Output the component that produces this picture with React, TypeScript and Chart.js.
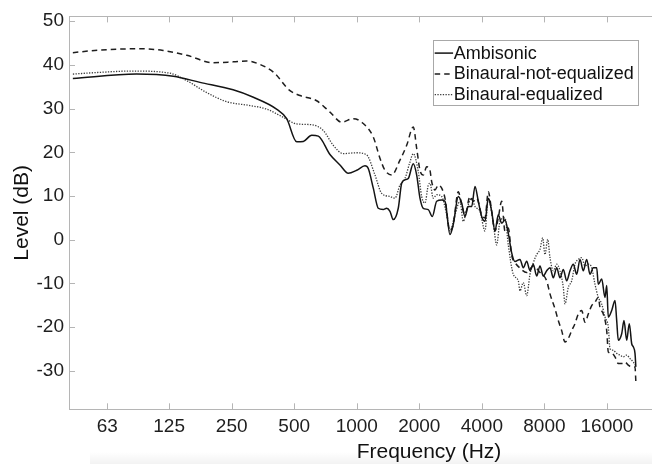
import React, { useEffect, useRef } from "react";
import { Chart, registerables } from "chart.js";

Chart.register(...registerables);

// ---------- data ----------
const SERIES_NAMES = ["Ambisonic", "Binaural-not-equalized", "Binaural-equalized"];

const X_TICKS = [63, 125, 250, 500, 1000, 2000, 4000, 8000, 16000];
const X_TICK_LABELS = ["63", "125", "250", "500", "1000", "2000", "4000", "8000", "16000"];
const Y_TICKS = [-30, -20, -10, 0, 10, 20, 30, 40, 50];

const AMB_FREQ = [43, 87, 131, 176, 254, 318, 411, 460, 514, 553, 607, 653, 743, 830, 910, 1000, 1095, 1136, 1201, 1269, 1341, 1393, 1445, 1499, 1584, 1645, 1706, 1770, 1871, 1943, 2015, 2090, 2209, 2309, 2425, 2563, 2658, 2810, 2915, 3081, 3199, 3318, 3442, 3574, 3707, 3846, 3993, 4142, 4296, 4461, 4627, 4800, 4984, 5170, 5362, 5568, 5776, 6105, 6332, 6575, 6821, 7075, 7346, 7620, 7904, 8207, 8513, 8831, 9170, 9512, 9866, 10245, 10626, 11022, 11445, 11872, 12313, 12786, 13263, 13757, 14285, 14541, 15100, 15663, 15962, 16247, 16870, 17499, 17832, 18151, 18848, 19334, 19922, 20504, 21057, 21434, 21842, 22050];
const AMB_DB = [36.9, 37.9, 37.4, 36.0, 34.3, 32.6, 29.9, 27.7, 22.4, 22.5, 23.9, 23.7, 19.5, 17.1, 15.2, 15.9, 16.9, 16.3, 11.8, 7.2, 6.9, 7.2, 6.5, 4.6, 7.2, 12.9, 13.7, 14.0, 17.4, 14.8, 9.5, 7.2, 6.9, 5.3, 8.8, 9.1, 8.8, 1.2, 3.5, 9.9, 8.4, 5.3, 7.6, 7.6, 12.2, 8.8, 5.3, 4.2, 9.5, 6.5, 2.0, 5.7, 3.8, 4.5, 1.5, -3.0, -5.0, -4.5, -6.4, -4.9, -7.1, -5.6, -8.3, -6.0, -8.3, -7.1, -6.4, -8.7, -6.4, -8.7, -6.8, -9.4, -7.1, -5.6, -7.9, -4.5, -7.1, -4.5, -7.9, -6.4, -6.4, -10.2, -9.0, -13.2, -10.5, -17.7, -16.2, -13.9, -18.5, -23.0, -21.5, -18.5, -23.0, -19.2, -23.8, -24.5, -26.0, -29.1];

const NE_FREQ = [43, 58, 90, 117, 152, 204, 254, 295, 342, 398, 477, 533, 641, 743, 846, 962, 1056, 1201, 1294, 1367, 1472, 1614, 1739, 1871, 1943, 2015, 2090, 2170, 2251, 2294, 2380, 2468, 2563, 2658, 2810, 2915, 3081, 3199, 3318, 3508, 3638, 3778, 3993, 4142, 4296, 4461, 4627, 4800, 4984, 5170, 5362, 5568, 5776, 6105, 6575, 7075, 7620, 8207, 8513, 8998, 9334, 9692, 10053, 10427, 10829, 11232, 11650, 12097, 12548, 13016, 13515, 14019, 14541, 14818, 15371, 15962, 16247, 16870, 17499, 18151, 18848, 19548, 20275, 21057, 21842, 22050];
const NE_DB = [42.8, 43.4, 43.7, 43.3, 42.2, 40.5, 40.7, 40.9, 40.1, 38.3, 34.1, 33.0, 31.8, 29.2, 26.9, 27.7, 26.9, 23.5, 18.6, 15.9, 14.8, 18.2, 21.6, 25.8, 20.9, 15.9, 14.8, 16.7, 15.9, 13.3, 11.4, 12.5, 11.8, 9.5, 2.0, 3.5, 11.0, 8.0, 5.7, 9.9, 8.8, 9.5, 5.7, 5.0, 11.0, 6.5, 2.0, 5.0, 8.8, 2.0, 2.7, -3.6, -5.2, -6.5, -7.5, -6.0, -7.5, -9.4, -12.4, -15.8, -18.5, -20.8, -23.4, -22.6, -20.8, -19.2, -17.0, -16.2, -18.9, -17.0, -15.1, -14.3, -13.2, -15.5, -17.0, -20.8, -25.7, -26.0, -26.8, -28.3, -28.3, -28.0, -28.7, -29.1, -29.1, -32.5];

const EQ_FREQ = [43, 58, 84, 126, 152, 189, 236, 306, 368, 443, 514, 607, 690, 771, 861, 1000, 1116, 1224, 1318, 1445, 1527, 1614, 1706, 1804, 1871, 1977, 2053, 2130, 2209, 2251, 2335, 2425, 2563, 2709, 2810, 2970, 3139, 3257, 3381, 3574, 3707, 3919, 4142, 4296, 4541, 4715, 4891, 5170, 5362, 5668, 5992, 6105, 6332, 6575, 6821, 7075, 7346, 7620, 7852, 8054, 8299, 8513, 8831, 9170, 9512, 9866, 10053, 10427, 10829, 11232, 11650, 12097, 12548, 13016, 13515, 14019, 14541, 15100, 15663, 16247, 16553, 17173, 17832, 18497, 19187, 19922, 20661, 21434, 21842];
const EQ_DB = [37.9, 38.3, 38.6, 38.1, 36.4, 33.7, 31.6, 30.7, 29.9, 28.0, 26.5, 26.3, 25.0, 21.6, 19.7, 19.9, 19.4, 14.8, 10.6, 9.9, 9.5, 12.5, 14.0, 17.8, 19.7, 15.6, 9.9, 8.4, 12.5, 12.9, 9.5, 10.3, 9.9, 5.7, 2.0, 5.7, 8.8, 4.2, 6.9, 9.5, 7.6, 6.5, 2.0, 9.5, 3.8, -1.2, 4.2, 5.0, -1.2, -7.9, -9.4, -11.7, -9.8, -12.8, -7.9, -5.3, -3.4, -2.2, 0.4, -3.4, 0.1, -4.1, -7.1, -5.6, -7.1, -10.9, -14.7, -10.9, -9.4, -5.6, -4.5, -4.1, -6.0, -5.6, -6.4, -10.2, -13.2, -14.7, -17.7, -20.0, -24.9, -25.3, -26.0, -26.4, -26.8, -26.4, -27.2, -28.0, -28.7];

const X_MIN = 41.2;
const X_MAX = 26370;
const Y_MIN = -38.8;
const Y_MAX = 51.1;

// ---------- styles ----------
const FONT = "'Liberation Sans', Arial, Helvetica, sans-serif";
const AXIS_COLOR = "#b5b5b5";
const TEXT_COLOR = "#1e1e1e";

const toPoints = (xs: number[], ys: number[]) => xs.map((x, i) => ({ x, y: ys[i] }));

const decorPlugin = {
  id: "decor",
  afterDatasetsDraw(chart: any) {
    const ctx = chart.ctx as CanvasRenderingContext2D;
    const a = chart.chartArea;
    const xs = chart.scales.x;
    const ys = chart.scales.y;
    ctx.save();
    // inward tick marks
    ctx.strokeStyle = AXIS_COLOR;
    ctx.lineWidth = 1;
    ctx.setLineDash([]);
    ctx.beginPath();
    for (const v of X_TICKS) {
      const px = Math.round(xs.getPixelForValue(v)) + 0.5;
      ctx.moveTo(px, a.bottom);
      ctx.lineTo(px, a.bottom - 6);
      ctx.moveTo(px, a.top);
      ctx.lineTo(px, a.top + 6);
    }
    for (const v of Y_TICKS) {
      const py = Math.round(ys.getPixelForValue(v)) + 0.5;
      ctx.moveTo(a.left, py);
      ctx.lineTo(a.left + 6, py);
    }
    ctx.stroke();

    // legend
    ctx.font = `18px ${FONT}`;
    const dsets = chart.data.datasets;
    let maxW = 0;
    for (const d of dsets) maxW = Math.max(maxW, ctx.measureText(d.label).width);
    const rowH = 20.8;
    const boxRight = a.right - 14.7;
    const boxW = 21 + maxW + 3.5;
    const boxLeft = boxRight - boxW;
    const boxTop = a.top + 24;
    const boxH = 12.7 + rowH * (dsets.length - 1) + 11;
    ctx.fillStyle = "#ffffff";
    ctx.fillRect(boxLeft, boxTop, boxW, boxH);
    ctx.strokeStyle = "#a8a8a8";
    ctx.lineWidth = 1;
    ctx.strokeRect(Math.round(boxLeft) + 0.5, Math.round(boxTop) + 0.5, Math.round(boxW), Math.round(boxH));
    dsets.forEach((d: any, i: number) => {
      const cy = boxTop + 12.7 + i * rowH;
      ctx.save();
      ctx.strokeStyle = d.borderColor;
      ctx.lineWidth = d.borderWidth;
      ctx.setLineDash(d.borderDash || []);
      ctx.beginPath();
      ctx.moveTo(boxLeft + 2, cy);
      ctx.lineTo(boxLeft + 20.4, cy);
      ctx.stroke();
      ctx.restore();
      ctx.fillStyle = "#111111";
      ctx.textAlign = "left";
      ctx.textBaseline = "middle";
      ctx.fillText(d.label, boxLeft + 21, cy + 0.5);
    });

    // x axis title
    ctx.font = `21px ${FONT}`;
    ctx.fillStyle = "#111111";
    ctx.textAlign = "center";
    ctx.textBaseline = "alphabetic";
    ctx.fillText("Frequency (Hz)", a.left + 0.6175 * (a.right - a.left), a.bottom + 49);
    ctx.restore();
  },
};

export default function App() {
  const canvasRef = useRef<HTMLCanvasElement | null>(null);

  useEffect(() => {
    const canvas = canvasRef.current;
    if (!canvas) return;
    const chart = new Chart(canvas, {
      type: "line",
      data: {
        datasets: [
          {
            label: SERIES_NAMES[0],
            data: toPoints(AMB_FREQ, AMB_DB),
            borderColor: "#141414",
            borderWidth: 1.5,
            borderDash: [],
            pointRadius: 0,
            cubicInterpolationMode: "monotone",
            fill: false,
          },
          {
            label: SERIES_NAMES[1],
            data: toPoints(NE_FREQ, NE_DB),
            borderColor: "#1e1e1e",
            borderWidth: 1.5,
            borderDash: [5.5, 4],
            pointRadius: 0,
            cubicInterpolationMode: "monotone",
            fill: false,
          },
          {
            label: SERIES_NAMES[2],
            data: toPoints(EQ_FREQ, EQ_DB),
            borderColor: "#3c3c3c",
            borderWidth: 1.3,
            borderDash: [1.3, 1.4],
            pointRadius: 0,
            cubicInterpolationMode: "monotone",
            fill: false,
          },
        ],
      },
      options: {
        animation: false,
        responsive: true,
        maintainAspectRatio: false,
        devicePixelRatio: 1,
        events: [],
        layout: { padding: 0 },
        plugins: {
          legend: { display: false },
          tooltip: { enabled: false },
          title: { display: false },
        },
        scales: {
          x: {
            type: "logarithmic",
            position: "bottom",
            min: X_MIN,
            max: X_MAX,
            grid: { display: false, drawTicks: false },
            border: { display: true, color: AXIS_COLOR, width: 1 },
            ticks: {
              color: TEXT_COLOR,
              font: { family: FONT, size: 19 },
              padding: 6,
              maxRotation: 0,
              autoSkip: false,
              callback: (val: any) => {
                const i = X_TICKS.indexOf(Number(val));
                return i >= 0 ? X_TICK_LABELS[i] : "";
              },
            },
            afterBuildTicks: (s: any) => {
              s.ticks = X_TICKS.map((v) => ({ value: v }));
            },
            afterFit: (s: any) => {
              s.height = 54.7;
            },
          },
          x2: {
            type: "logarithmic",
            position: "top",
            min: X_MIN,
            max: X_MAX,
            grid: { display: false, drawTicks: false },
            border: { display: true, color: AXIS_COLOR, width: 1 },
            ticks: { display: false },
            afterBuildTicks: (s: any) => {
              s.ticks = X_TICKS.map((v) => ({ value: v }));
            },
            afterFit: (s: any) => {
              s.height = 13.3;
            },
          },
          y: {
            type: "linear",
            position: "left",
            min: Y_MIN,
            max: Y_MAX,
            grid: { display: false, drawTicks: false },
            border: { display: true, color: AXIS_COLOR, width: 1 },
            ticks: {
              color: TEXT_COLOR,
              font: { family: FONT, size: 19 },
              padding: 5,
            },
            afterBuildTicks: (s: any) => {
              s.ticks = Y_TICKS.map((v) => ({ value: v }));
            },
            afterFit: (s: any) => {
              s.width = 69;
            },
            title: {
              display: true,
              text: "Level (dB)",
              color: "#111111",
              font: { family: FONT, size: 21 },
              padding: { top: 10, bottom: 0 },
            },
          },
        },
      },
      plugins: [decorPlugin],
    } as any);
    return () => chart.destroy();
  }, []);

  return (
    <div style={{ position: "absolute", left: 0, top: 0, width: 652, height: 464, overflow: "hidden", background: "#ffffff" }}>
      <div
        style={{
          position: "absolute",
          left: 90,
          top: 452,
          width: 562,
          height: 12,
          background: "linear-gradient(to bottom, rgba(0,0,0,0), rgba(0,0,0,0.05))",
        }}
      />
      <canvas ref={canvasRef} style={{ position: "absolute", left: 0, top: 0 }} />
    </div>
  );
}
